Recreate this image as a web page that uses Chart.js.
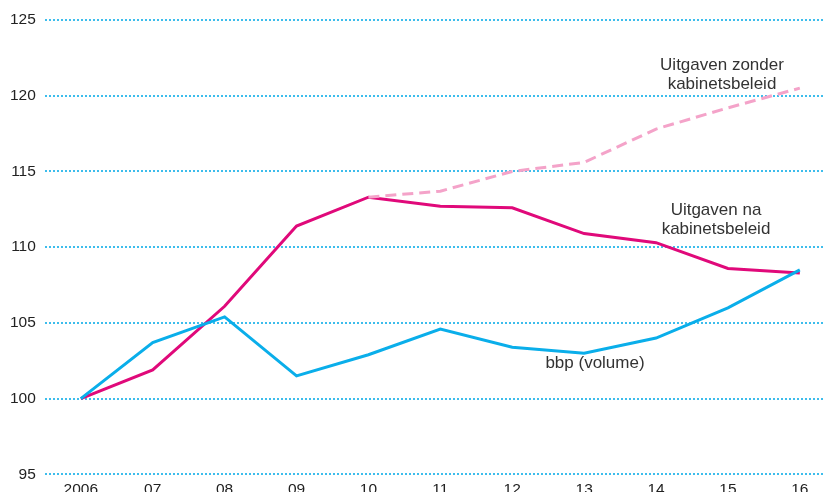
<!DOCTYPE html>
<html>
<head>
<meta charset="utf-8">
<script src="https://cdn.jsdelivr.net/npm/chart.js@4/dist/chart.umd.min.js"></script>
<style>
    html, body { margin: 0; padding: 0; background: #fff; overflow: hidden; }
    #wrap { position: relative; width: 825px; height: 505px; }
    .note {
        position: absolute;
        font-family: "Liberation Sans", Arial, sans-serif;
        font-size: 17px;
        line-height: 19px;
        color: #333;
        text-align: center;
        white-space: nowrap;
        transform: translateX(-50%);
    }
</style>
</head>
<body>
<div id="wrap">
    <canvas id="chart" width="825" height="505"></canvas>
    <div class="note" style="left:722px; top:55px;">Uitgaven zonder<br>kabinetsbeleid</div>
    <div class="note" style="left:716px; top:200px;">Uitgaven na<br>kabinetsbeleid</div>
    <div class="note" style="left:595px; top:353px;">bbp (volume)</div>
</div>
<script>
// jaren en reeksen (index 2006 = 100)
const years = [2006, 2007, 2008, 2009, 2010, 2011, 2012, 2013, 2014, 2015, 2016];
const uitgavenNa = [100, 101.9, 106.1, 111.4, 113.3, 112.7, 112.6, 110.9, 110.3, 108.6, 108.3];
const bbpVolume = [100, 103.7, 105.4, 101.5, 102.9, 104.6, 103.4, 103.0, 104.0, 106.0, 108.5];
const zonderYears = [2010, 2011, 2012, 2013, 2014, 2015, 2016];
const uitgavenZonder = [113.3, 113.7, 115.0, 115.6, 117.8, 119.2, 120.5];

const GRID_BLUE = '#3dbdec';
const FONT = '"Liberation Sans", Arial, sans-serif';

function toPoints(xs, ys) {
    return xs.map((x, i) => ({ x: x, y: ys[i] }));
}

const ctx = document.getElementById('chart').getContext('2d');
new Chart(ctx, {
    type: 'line',
    data: {
        datasets: [
            {
                label: 'Uitgaven zonder kabinetsbeleid',
                data: toPoints(zonderYears, uitgavenZonder),
                borderColor: '#f4a3c9',
                borderWidth: 3,
                borderDash: [11, 6],
                pointRadius: 0,
                tension: 0,
            },
            {
                label: 'bbp (volume)',
                data: toPoints(years, bbpVolume),
                borderColor: '#0aaeea',
                borderWidth: 3,
                pointRadius: 0,
                tension: 0,
            },
            {
                label: 'Uitgaven na kabinetsbeleid',
                data: toPoints(years, uitgavenNa),
                borderColor: '#e0097a',
                borderWidth: 3,
                pointRadius: 0,
                tension: 0,
            },
        ],
    },
    options: {
        responsive: false,
        animation: false,
        layout: { padding: { left: 1, top: 20, right: 0, bottom: 0 } },
        plugins: {
            legend: { display: false },
            tooltip: { enabled: false },
        },
        scales: {
            x: {
                type: 'linear',
                min: 2005.5,
                max: 2016.35,
                afterBuildTicks: (axis) => {
                    axis.ticks = years.map(v => ({ value: v }));
                },
                grid: { display: false, drawTicks: false },
                border: { display: false },
                ticks: {
                    padding: 6,
                    color: '#222',
                    font: { family: FONT, size: 15.5 },
                    maxRotation: 0,
                    callback: (v) => v === 2006 ? '2006' : String(v).slice(2),
                },
            },
            y: {
                min: 95,
                max: 125,
                grid: {
                    color: GRID_BLUE,
                    lineWidth: 2,
                    drawTicks: false,
                },
                border: { display: false, dash: [2, 2] },
                ticks: {
                    stepSize: 5,
                    padding: 9,
                    color: '#222',
                    font: { family: FONT, size: 15.5 },
                },
            },
        },
    },
});
</script>
</body>
</html>
